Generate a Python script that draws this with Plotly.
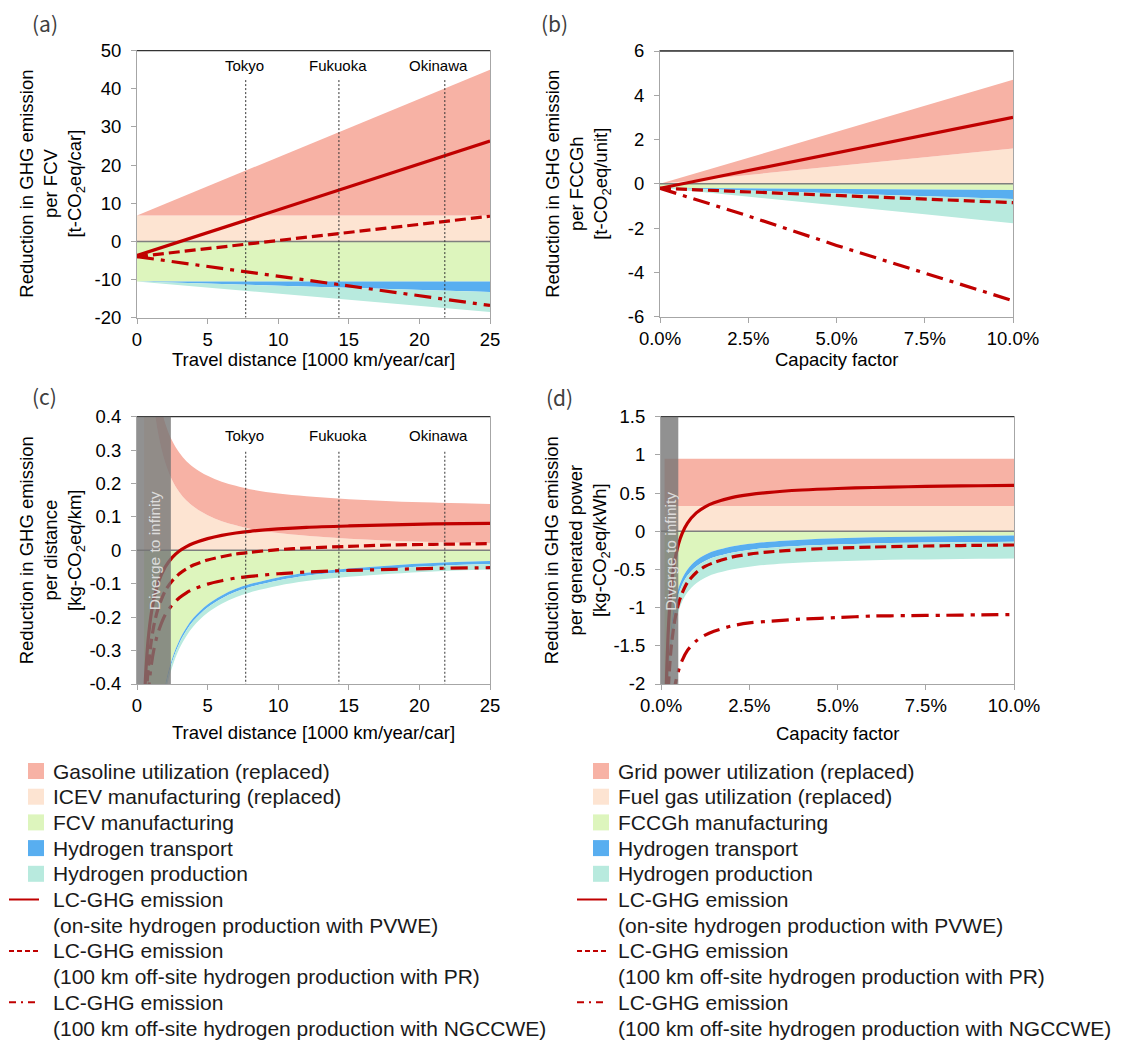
import plotly.graph_objects as go

W, H = 1127, 1041

# ---------------- data ----------------
# (a) Reduction in GHG emission per FCV vs travel distance [1000 km/year/car]
a_x = [0, 5, 10, 15, 20, 25]
a_icev = [6.8, 6.8, 6.8, 6.8, 6.8, 6.8]
a_gasoline = [0.0, 7.6, 15.3, 22.9, 30.6, 38.2]
a_fcv = [-10.5, -10.5, -10.5, -10.5, -10.5, -10.5]
a_transport = [0.0, -0.55, -1.1, -1.65, -2.2, -2.75]
a_production = [0.0, -1.05, -2.1, -3.15, -4.2, -5.25]
a_lc_pvwe = [-3.7, 2.3, 8.3, 14.3, 20.3, 26.3]
a_lc_pr = [-4.0, -1.9, 0.3, 2.4, 4.5, 6.6]
a_lc_ngccwe = [-4.0, -6.6, -9.1, -11.7, -14.2, -16.8]

# (b) Reduction in GHG emission per FCCGh vs capacity factor [%]
b_x = [0, 2.5, 5, 7.5, 10]
b_fuelgas = [0.0, 0.4, 0.8, 1.2, 1.6]
b_grid = [0.0, 0.78, 1.55, 2.33, 3.1]
b_fccgh = [-0.18, -0.2, -0.23, -0.25, -0.28]
b_transport = [0.0, -0.1, -0.2, -0.3, -0.4]
b_production = [0.0, -0.27, -0.55, -0.82, -1.1]
b_lc_pvwe = [-0.2, 0.6, 1.4, 2.2, 3.0]
b_lc_pr = [-0.2, -0.36, -0.52, -0.69, -0.85]
b_lc_ngccwe = [-0.2, -1.45, -2.78, -4.02, -5.28]

# (c) Reduction per distance [kg-CO2eq/km] vs travel distance
c_x = [0.5, 0.6, 0.7, 0.8, 1.0, 1.2, 1.5, 2.0, 2.5, 3.0, 3.5, 4.0, 5, 6, 7, 8, 10, 12, 15, 18, 21, 25]
c_icev = [1.046, 0.872, 0.747, 0.654, 0.523, 0.436, 0.349, 0.262, 0.209, 0.174, 0.149, 0.131,
          0.105, 0.087, 0.075, 0.065, 0.052, 0.044, 0.035, 0.029, 0.025, 0.021]
c_gasoline = [0.118, 0.118, 0.118, 0.118, 0.118, 0.118, 0.118, 0.118, 0.118, 0.118, 0.118, 0.118,
              0.118, 0.118, 0.118, 0.118, 0.118, 0.118, 0.118, 0.118, 0.118, 0.118]
c_fcv = [-1.616, -1.347, -1.154, -1.010, -0.808, -0.673, -0.539, -0.404, -0.323, -0.269, -0.231, -0.202,
         -0.162, -0.135, -0.115, -0.101, -0.081, -0.067, -0.054, -0.045, -0.038, -0.032]
c_transport = [-0.009, -0.009, -0.009, -0.009, -0.009, -0.009, -0.009, -0.009, -0.009, -0.009, -0.009,
               -0.009, -0.009, -0.009, -0.009, -0.009, -0.009, -0.009, -0.009, -0.009, -0.009, -0.009]
c_production = [-0.016, -0.016, -0.016, -0.016, -0.016, -0.016, -0.016, -0.016, -0.016, -0.016, -0.016,
                -0.016, -0.016, -0.016, -0.016, -0.016, -0.016, -0.016, -0.016, -0.016, -0.016, -0.016]
c_lc_pvwe = [-0.477, -0.382, -0.314, -0.263, -0.192, -0.145, -0.097, -0.050, -0.021, -0.002, 0.011, 0.021,
             0.035, 0.045, 0.052, 0.057, 0.064, 0.069, 0.073, 0.076, 0.079, 0.081]
c_lc_pr = [-0.583, -0.480, -0.407, -0.352, -0.275, -0.224, -0.173, -0.121, -0.091, -0.070, -0.055, -0.044,
           -0.029, -0.019, -0.011, -0.006, 0.002, 0.007, 0.012, 0.016, 0.018, 0.020]
c_lc_ngccwe = [-0.655, -0.552, -0.479, -0.424, -0.347, -0.296, -0.245, -0.193, -0.163, -0.142, -0.127, -0.116,
               -0.101, -0.091, -0.083, -0.078, -0.070, -0.065, -0.060, -0.057, -0.054, -0.052]

# (d) Reduction per generated power [kg-CO2eq/kWh] vs capacity factor [%]
d_x = [0.1, 0.15, 0.2, 0.25, 0.3, 0.4, 0.5, 0.6, 0.75, 1.0, 1.25, 1.5, 2.0, 2.5, 3.0, 4, 5, 6, 7, 8, 9, 10]
d_fuelgas = [0.33, 0.33, 0.33, 0.33, 0.33, 0.33, 0.33, 0.33, 0.33, 0.33, 0.33,
             0.33, 0.33, 0.33, 0.33, 0.33, 0.33, 0.33, 0.33, 0.33, 0.33, 0.33]
d_grid = [0.62, 0.62, 0.62, 0.62, 0.62, 0.62, 0.62, 0.62, 0.62, 0.62, 0.62,
          0.62, 0.62, 0.62, 0.62, 0.62, 0.62, 0.62, 0.62, 0.62, 0.62, 0.62]
d_fccgh = [-3.62, -2.42, -1.82, -1.46, -1.22, -0.92, -0.74, -0.62, -0.50, -0.38, -0.308,
           -0.26, -0.20, -0.164, -0.14, -0.11, -0.092, -0.08, -0.071, -0.065, -0.06, -0.056]
d_transport = [-0.08, -0.08, -0.08, -0.08, -0.08, -0.08, -0.08, -0.08, -0.08, -0.08, -0.08,
               -0.08, -0.08, -0.08, -0.08, -0.08, -0.08, -0.08, -0.08, -0.08, -0.08, -0.08]
d_production = [-0.22, -0.22, -0.22, -0.22, -0.22, -0.22, -0.22, -0.22, -0.22, -0.22, -0.22,
                -0.22, -0.22, -0.22, -0.22, -0.22, -0.22, -0.22, -0.22, -0.22, -0.22, -0.22]
d_lc_pvwe = [-3.36, -2.03, -1.36, -0.96, -0.69, -0.36, -0.16, -0.027, 0.107, 0.24, 0.32,
             0.373, 0.44, 0.48, 0.507, 0.54, 0.56, 0.573, 0.583, 0.59, 0.596, 0.60]
d_lc_pr = [-4.14, -2.81, -2.14, -1.74, -1.47, -1.14, -0.94, -0.81, -0.67, -0.54, -0.46,
           -0.41, -0.34, -0.30, -0.273, -0.24, -0.22, -0.207, -0.197, -0.19, -0.184, -0.18]
d_lc_ngccwe = [-4.9, -3.62, -2.98, -2.59, -2.33, -2.01, -1.82, -1.69, -1.56, -1.435, -1.36,
               -1.31, -1.24, -1.20, -1.18, -1.15, -1.13, -1.11, -1.105, -1.10, -1.095, -1.09]

# cities (annual travel distance, 1000 km/year/car)
cities = ["Tokyo", "Fukuoka", "Okinawa"]
city_km = [7.7, 14.3, 21.8]

# "Diverge to infinity" limits
c_diverge_end = 2.4
d_diverge_end = 0.49

# axis ticks
a_yticks = [-20, -10, 0, 10, 20, 30, 40, 50]
a_yticktext = ["-20", "-10", "0", "10", "20", "30", "40", "50"]
dist_xticks = [0, 5, 10, 15, 20, 25]
dist_xticktext = ["0", "5", "10", "15", "20", "25"]
cf_xticks = [0, 2.5, 5, 7.5, 10]
cf_xticktext = ["0.0%", "2.5%", "5.0%", "7.5%", "10.0%"]
b_yticks = [-6, -4, -2, 0, 2, 4, 6]
b_yticktext = ["-6", "-4", "-2", "0", "2", "4", "6"]
c_yticks = [-0.4, -0.3, -0.2, -0.1, 0, 0.1, 0.2, 0.3, 0.4]
c_yticktext = ["-0.4", "-0.3", "-0.2", "-0.1", "0", "0.1", "0.2", "0.3", "0.4"]
d_yticks = [-2, -1.5, -1, -0.5, 0, 0.5, 1, 1.5]
d_yticktext = ["-2", "-1.5", "-1", "-0.5", "0", "0.5", "1", "1.5"]

# legend labels
left_area_labels = ["Gasoline utilization (replaced)", "ICEV manufacturing (replaced)",
                    "FCV manufacturing", "Hydrogen transport", "Hydrogen production"]
right_area_labels = ["Grid power utilization (replaced)", "Fuel gas utilization (replaced)",
                     "FCCGh manufacturing", "Hydrogen transport", "Hydrogen production"]
line_labels = [["LC-GHG emission", "(on-site hydrogen production with PVWE)"],
               ["LC-GHG emission", "(100 km off-site hydrogen production with PR)"],
               ["LC-GHG emission", "(100 km off-site hydrogen production with NGCCWE)"]]

# ---------------- style ----------------
SALMON = "#F7B2A5"
PEACH = "#FDE4D2"
GREEN = "#DDF5BD"
BLUE = "#58AEF0"
TEAL = "#B8EADE"
RED = "#C00000"
area_colors = [SALMON, PEACH, GREEN, BLUE, TEAL]
FONT = "Liberation Sans, Arial, sans-serif"
DASH = "11px,5px"
DASHDOT = "17px,7px,4px,7px"
line_dashes = ["solid", DASH, DASHDOT]
AXC = "#a6a6a6"


def px(x):
    return x / W


def py(y):
    return 1 - y / H


boxes = {  # pixel boxes of plot areas: x0, x1, ytop, ybottom
    "a": (137, 490, 50.7, 317.7),
    "b": (660, 1013, 51, 316.7),
    "c": (137, 490, 416.7, 684),
    "d": (661, 1014, 416.7, 684),
}

fig = go.Figure()

panels = [
    ("a", "x", "y", a_x, [a_icev, a_gasoline], [a_fcv, a_transport, a_production],
     [a_lc_pvwe, a_lc_pr, a_lc_ngccwe], "linear", [0, 25], [-20, 50]),
    ("b", "x2", "y2", b_x, [b_fuelgas, b_grid], [b_fccgh, b_transport, b_production],
     [b_lc_pvwe, b_lc_pr, b_lc_ngccwe], "linear", [0, 10], [-6, 6]),
    ("c", "x3", "y3", c_x, [c_icev, c_gasoline], [c_fcv, c_transport, c_production],
     [c_lc_pvwe, c_lc_pr, c_lc_ngccwe], "spline", [0, 25], [-0.4, 0.4]),
    ("d", "x4", "y4", d_x, [d_fuelgas, d_grid], [d_fccgh, d_transport, d_production],
     [d_lc_pvwe, d_lc_pr, d_lc_ngccwe], "spline", [0, 10], [-2, 1.5]),
]

for key, xa, ya, xs, pos, neg, lines, shape, xr, yr in panels:
    pos_colors = [PEACH, SALMON]
    neg_colors = [GREEN, BLUE, TEAL]
    for vals, col in zip(pos, pos_colors):
        fig.add_trace(go.Scatter(x=xs, y=vals, xaxis=xa, yaxis=ya, stackgroup=key + "pos",
                                 mode="lines", line=dict(width=0, shape=shape), fillcolor=col,
                                 showlegend=False, hoverinfo="skip"))
    for vals, col in zip(neg, neg_colors):
        fig.add_trace(go.Scatter(x=xs, y=vals, xaxis=xa, yaxis=ya, stackgroup=key + "neg",
                                 mode="lines", line=dict(width=0, shape=shape), fillcolor=col,
                                 showlegend=False, hoverinfo="skip"))
    # zero line
    fig.add_trace(go.Scatter(x=xr, y=[0, 0], xaxis=xa, yaxis=ya, mode="lines",
                             line=dict(color="#7f7f7f", width=1.5), showlegend=False, hoverinfo="skip"))
    for vals, dash in zip(lines, line_dashes):
        fig.add_trace(go.Scatter(x=xs, y=vals, xaxis=xa, yaxis=ya, mode="lines",
                                 line=dict(color=RED, width=3.2, dash=dash, shape=shape, smoothing=0.8),
                                 showlegend=False))

ax_common = dict(showline=True, mirror=True, linecolor=AXC, linewidth=1, ticks="outside",
                 ticklen=5, tickcolor=AXC, tickwidth=1, showgrid=False, zeroline=False,
                 automargin=False,
                 tickfont=dict(family=FONT, size=18.5, color="#000"))

layout = dict(template="none", width=W, height=H, margin=dict(l=0, r=0, t=0, b=0, pad=0),
              autosize=False, paper_bgcolor="white",
              plot_bgcolor="white", showlegend=False, font=dict(family=FONT, color="#000"))

axis_defs = {
    "a": ("xaxis", "yaxis", "y", "x", [0, 25], [-20, 50], dist_xticks, dist_xticktext, a_yticks, a_yticktext),
    "b": ("xaxis2", "yaxis2", "y2", "x2", [0, 10], [-6, 6], cf_xticks, cf_xticktext, b_yticks, b_yticktext),
    "c": ("xaxis3", "yaxis3", "y3", "x3", [0, 25], [-0.4, 0.4], dist_xticks, dist_xticktext, c_yticks, c_yticktext),
    "d": ("xaxis4", "yaxis4", "y4", "x4", [0, 10], [-2, 1.5], cf_xticks, cf_xticktext, d_yticks, d_yticktext),
}
for key, (xn, yn, yref, xref, xr, yr, xtv, xtt, ytv, ytt) in axis_defs.items():
    x0, x1, yt, yb = boxes[key]
    layout[xn] = dict(ax_common, domain=[px(x0), px(x1)], range=xr, anchor=yref,
                      tickmode="array", tickvals=xtv, ticktext=xtt, ticklabelstandoff=0)
    layout[yn] = dict(ax_common, domain=[py(yb), py(yt)], range=yr, anchor=xref,
                      tickmode="array", tickvals=ytv, ticktext=ytt, ticklabelstandoff=6)

fig.update_layout(**layout)

shapes = []
annotations = []

# top borders (darker)
for key, (xn, yn, yref, xref, *_r) in axis_defs.items():
    shapes.append(dict(type="line", xref=xref + " domain", yref=yref + " domain", x0=0, x1=1, y0=1, y1=1,
                       line=dict(color="#333333", width=1.3), layer="above"))

# city marker lines and labels
for xref, yref, ytop, ylab in [("x", "y", 42.3, 46.2), ("x3", "y3", 0.295, 0.345)]:
    for name, km in zip(cities, city_km):
        shapes.append(dict(type="line", xref=xref, yref=yref, x0=km, x1=km, y0=ytop,
                           y1=(-20 if yref == "y" else -0.4),
                           line=dict(color="#333333", width=1, dash="2px,2px"), layer="above"))
        annotations.append(dict(xref=xref, yref=yref, x=km, y=ylab, text=name, showarrow=False,
                                xanchor="center", yanchor="middle",
                                xshift=(-6 if name == "Okinawa" else -1),
                                font=dict(family=FONT, size=15, color="#000")))

# Diverge to infinity bands
for xref, yref, xend, ytext in [("x3", "y3", c_diverge_end, 0.0), ("x4", "y4", d_diverge_end, -0.26)]:
    shapes.append(dict(type="rect", xref=xref, yref=yref + " domain", x0=0, x1=xend, y0=0, y1=1,
                       fillcolor="rgba(118,118,118,0.80)", line=dict(width=0), layer="above"))
    annotations.append(dict(xref=xref, yref=yref, x=xend / 2, y=ytext, text="Diverge to infinity",
                            textangle=-90, showarrow=False, xanchor="center", yanchor="middle",
                            font=dict(family=FONT, size=15.5, color="rgba(225,225,225,0.95)")))

# axis titles
ytitles = [
    ("a", 52.5, "Reduction in GHG emission<br>per FCV<br>[t-CO<sub>2</sub>eq/car]"),
    ("b", 578, "Reduction in GHG emission<br>per FCCGh<br>[t-CO<sub>2</sub>eq/unit]"),
    ("c", 52, "Reduction in GHG emission<br>per distance<br>[kg-CO<sub>2</sub>eq/km]"),
    ("d", 577, "Reduction in GHG emission<br>per generated power<br>[kg-CO<sub>2</sub>eq/kWh]"),
]
for key, xc, txt in ytitles:
    x0, x1, yt, yb = boxes[key]
    annotations.append(dict(xref="paper", yref="paper", x=px(xc), y=py((yt + yb) / 2), text=txt,
                            textangle=-90, showarrow=False, xanchor="center", yanchor="middle",
                            font=dict(family=FONT, size=18.5, color="#000")))
xtitles = [("a", 359, "Travel distance [1000 km/year/car]"), ("b", 359, "Capacity factor"),
           ("c", 732, "Travel distance [1000 km/year/car]"), ("d", 733, "Capacity factor")]
for key, yc, txt in xtitles:
    x0, x1, yt, yb = boxes[key]
    annotations.append(dict(xref="paper", yref="paper", x=px((x0 + x1) / 2), y=py(yc), text=txt,
                            showarrow=False, xanchor="center", yanchor="middle",
                            font=dict(family=FONT, size=18.5, color="#000")))

# panel letters
for lab, xc, yc in [("(a)", 45, 23), ("(b)", 554, 23), ("(c)", 44, 396), ("(d)", 559, 397)]:
    annotations.append(dict(xref="paper", yref="paper", x=px(xc), y=py(yc), text=lab, showarrow=False,
                            xanchor="center", yanchor="middle",
                            font=dict(family="Noto Sans CJK JP, sans-serif", size=21, color="#404040")))

# legends (drawn manually to match row spacing)
ROW0, STEP = 771, 25.7
for sw0, ln0, tx, area_labels in [(28, 9, 51, left_area_labels), (593, 577, 616, right_area_labels)]:
    row = 0
    for lab, col in zip(area_labels, area_colors):
        c = ROW0 + STEP * row
        shapes.append(dict(type="rect", xref="paper", yref="paper", x0=px(sw0), x1=px(sw0 + 16),
                           y0=py(c + 8), y1=py(c - 8), fillcolor=col, line=dict(width=0)))
        annotations.append(dict(xref="paper", yref="paper", x=px(tx), y=py(c), text=lab, showarrow=False,
                                xanchor="left", yanchor="middle",
                                font=dict(family=FONT, size=21, color="#1a1a1a")))
        row += 1
    for lines_txt, dash in zip(line_labels, ["solid", "5px,3px", "7px,5px,2px,5px"]):
        c = ROW0 + STEP * row
        shapes.append(dict(type="line", xref="paper", yref="paper", x0=px(ln0), x1=px(ln0 + 30),
                           y0=py(c), y1=py(c), line=dict(color=RED, width=2, dash=dash)))
        for t in lines_txt:
            c = ROW0 + STEP * row
            annotations.append(dict(xref="paper", yref="paper", x=px(tx), y=py(c), text=t, showarrow=False,
                                    xanchor="left", yanchor="middle",
                                    font=dict(family=FONT, size=21, color="#1a1a1a")))
            row += 1

fig.update_layout(shapes=shapes, annotations=annotations)

fig.write_html("out.html", config={"displayModeBar": False},
               post_script="document.body.style.margin='0';document.body.style.overflow='hidden';")
